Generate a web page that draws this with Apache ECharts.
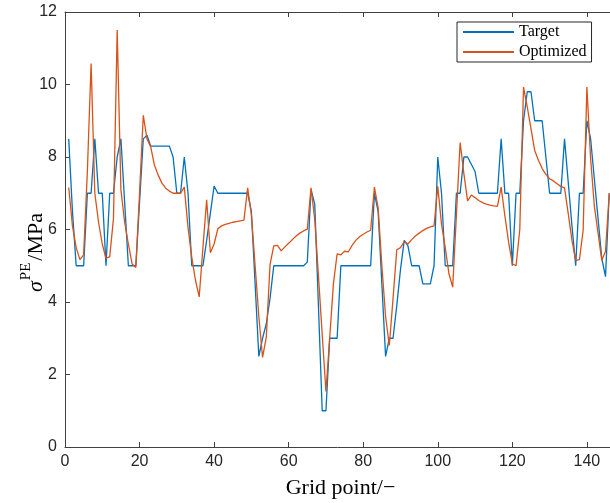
<!DOCTYPE html>
<html>
<head>
<meta charset="utf-8">
<script src="https://cdn.jsdelivr.net/npm/echarts@6/dist/echarts.min.js"></script>
<style>
  html, body { margin: 0; padding: 0; background: #fff; }
  #chart { width: 610px; height: 503px; }
</style>
</head>
<body>
<div id="chart"></div>
<script>
// Stress at each grid point (MPa), grid points numbered from 1
const target = [
  8.5, 6.5, 5, 5, 5, 7, 7, 8.5, 7, 7,
  5, 7, 7, 8, 8.5, 6.75, 5, 5, 5, 6.75,
  8.5, 8.6, 8.3, 8.3, 8.3, 8.3, 8.3, 8.3, 8.0, 7.0,
  7.0, 8.0, 7.0, 5, 5, 5, 5, 5.7, 6.45, 7.2,
  7, 7, 7, 7, 7, 7, 7, 7, 7, 6.5,
  4.5, 2.5, 3.0, 3.4, 4.1, 5, 5, 5, 5, 5,
  5, 5, 5, 5, 5.1, 7.1, 6.7, 3.85, 1.0, 1.0,
  3, 3, 3, 5, 5, 5, 5, 5, 5, 5,
  5, 5, 7.0, 6.5, 4.5, 2.5, 3, 3, 3.9, 4.9,
  5.7, 5.55, 5, 5, 5, 4.5, 4.5, 4.5, 5, 8,
  7, 5, 5, 5, 7, 7, 8, 8, 7.8, 7.6,
  7, 7, 7, 7, 7, 7, 8.5, 7, 7, 5,
  7, 7, 9, 9.8, 9.8, 9, 9, 9, 8, 7,
  7, 7, 7, 8.5, 7.3, 6.1, 5, 7, 7, 9,
  8.5, 7.4, 6.3, 5.2, 4.7, 7.0
];

const optimized = [
  7.16, 6.1, 5.5, 5.17, 5.3, 7.6, 10.58, 7.0, 6.2, 5.6,
  5.2, 5.25, 6.3, 11.5, 7.1, 6.2, 5.6, 5.05, 4.95, 7.0,
  9.15, 8.5, 8.28, 7.77, 7.5, 7.28, 7.14, 7.06, 7.0, 7.0,
  7.0, 7.17, 6.06, 5.24, 4.6, 4.14, 5.5, 6.82, 5.36, 5.6,
  6.02, 6.1, 6.14, 6.17, 6.2, 6.22, 6.24, 6.26, 7.15, 6.4,
  5.0, 3.6, 2.47, 3.03, 5.03, 5.55, 5.56, 5.41, 5.52, 5.62,
  5.72, 5.82, 5.9, 5.96, 6.01, 7.15, 6.28, 4.7, 3.1, 1.53,
  3.0, 4.5, 5.33, 5.3, 5.4, 5.38, 5.56, 5.7, 5.8, 5.87,
  5.93, 5.98, 7.17, 6.6, 5.0, 3.6, 2.8, 4.1, 5.44, 5.5,
  5.67, 5.6, 5.72, 5.82, 5.9, 5.97, 6.03, 6.07, 6.1, 7.19,
  6.15, 5.5, 4.78, 4.41, 6.4, 8.4, 7.54, 6.79, 6.95, 6.88,
  6.8, 6.74, 6.7, 6.67, 6.65, 6.64, 7.17, 6.38, 5.65, 5.05,
  5.0, 6.0, 9.93, 9.38, 8.78, 8.18, 7.91, 7.68, 7.52, 7.4,
  7.34, 7.26, 7.19, 7.15, 6.44, 5.7, 5.15, 5.17, 5.98, 9.93,
  7.95, 6.65, 5.89, 5.15, 5.4, 7.0
];

const seriesNames = ['Target', 'Optimized'];
const xRange = [0, 146.2];
const yRange = [0, 12];

const toPoints = arr => arr.map((v, i) => [i + 1, v]);

const axisColor = '#404040';
const sansFont = '"Liberation Sans", Arial, sans-serif';
const serifFont = '"Liberation Serif", "Times New Roman", serif';

const chart = echarts.init(document.getElementById('chart'), null, { renderer: 'canvas' });

const baseX = {
  type: 'value',
  min: xRange[0],
  max: xRange[1],
  interval: 20,
  splitLine: { show: false },
  axisLine: { show: true, onZero: false, lineStyle: { color: axisColor, width: 1 } },
  axisTick: { show: true, inside: true, length: 5, lineStyle: { color: axisColor } }
};

chart.setOption({
  animation: false,
  backgroundColor: '#fff',
  grid: {
    left: 65, right: 0, top: 12, bottom: 56,
    containLabel: false,
    outerBoundsMode: 'none'
  },
  legend: {
    data: seriesNames,
    orient: 'vertical',
    left: 457,
    top: 22,
    padding: [2, 5],
    itemWidth: 51,
    itemHeight: 16,
    itemGap: 4,
    borderColor: '#262626',
    borderWidth: 1,
    backgroundColor: '#fff',
    itemStyle: { opacity: 0 },
    textStyle: { fontFamily: serifFont, fontSize: 16, color: '#000' }
  },
  xAxis: [
    Object.assign({}, baseX, {
      position: 'bottom',
      name: 'Grid point/−',
      nameLocation: 'middle',
      nameGap: 30,
      nameMoveOverlap: false,
      nameTextStyle: {
        fontFamily: serifFont, fontSize: 22, color: '#000',
        padding: [0, 0, 0, 6]
      },
      axisLabel: {
        show: true, margin: 7, showMaxLabel: false,
        fontFamily: sansFont, fontSize: 16, color: '#262626'
      }
    }),
    Object.assign({}, baseX, {
      position: 'top',
      axisLabel: { show: false }
    })
  ],
  yAxis: {
    type: 'value',
    min: yRange[0],
    max: yRange[1],
    interval: 2,
    splitLine: { show: false },
    axisLine: { show: true, onZero: false, lineStyle: { color: axisColor, width: 1 } },
    axisTick: { show: true, inside: true, length: 5, lineStyle: { color: axisColor } },
    axisLabel: { margin: 8, fontFamily: sansFont, fontSize: 16, color: '#262626' },
    name: '{s|σ}{sup|PE}{r|/MPa}',
    nameLocation: 'middle',
    nameRotate: 90,
    nameGap: 18,
    nameMoveOverlap: false,
    nameTextStyle: {
      padding: [0, 46, 0, 0],
      rich: {
        s: { fontFamily: serifFont, fontStyle: 'italic', fontSize: 22, color: '#000', lineHeight: 28, verticalAlign: 'bottom' },
        sup: { fontFamily: serifFont, fontSize: 15, color: '#000', lineHeight: 28, verticalAlign: 'top', padding: [0, 2, 0, 1] },
        r: { fontFamily: serifFont, fontSize: 22, color: '#000', lineHeight: 28, verticalAlign: 'bottom' }
      }
    }
  },
  series: [
    {
      name: seriesNames[0],
      type: 'line',
      data: toPoints(target),
      symbol: 'none',
      lineStyle: { color: '#0072BD', width: 1.3 },
      itemStyle: { color: '#0072BD' },
      z: 2
    },
    {
      name: seriesNames[1],
      type: 'line',
      data: toPoints(optimized),
      symbol: 'none',
      lineStyle: { color: '#D95319', width: 1.3 },
      itemStyle: { color: '#D95319' },
      z: 3
    }
  ]
});
</script>
</body>
</html>
